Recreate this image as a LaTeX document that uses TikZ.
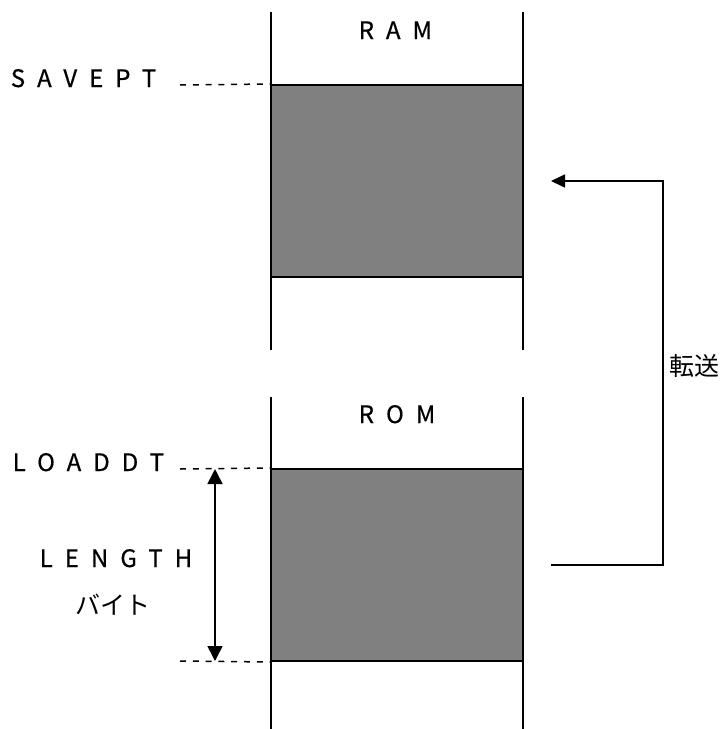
\documentclass[tikz,border=0pt]{standalone}
\usepackage{fontspec}
\setmainfont{Noto Sans CJK JP}
\newfontfamily\spaced[LetterSpace=50,FakeBold=0.6]{Noto Sans CJK JP}
\usetikzlibrary{arrows.meta}
\begin{document}
\begin{tikzpicture}[x=1pt,y=-1pt,
  line width=1.6pt,
  block/.style={draw=black, line width=2pt, fill=black!50, minimum width=252pt, minimum height=192pt, inner sep=0pt},
  lbl/.style={font=\spaced\fontsize{24}{24}\selectfont, inner sep=0pt},
  jlbl/.style={font=\fontsize{25}{25}\selectfont, inner sep=0pt},
  guide/.style={line width=1.5pt, dash pattern=on 6pt off 6.8pt},
  tip/.style={-{Triangle[length=14pt,width=13pt]}}
]
\useasboundingbox (0,0) rectangle (727,729);
% column lines
\coordinate (ramTL) at (271,12);
\coordinate (ramBL) at (271,350);
\coordinate (ramTR) at (523,12);
\coordinate (ramBR) at (523,350);
\coordinate (romTL) at (271,397);
\coordinate (romBL) at (271,729);
\coordinate (romTR) at (523,397);
\coordinate (romBR) at (523,729);
\draw (ramTL) -- (ramBL);
\draw (ramTR) -- (ramBR);
\draw (romTL) -- (romBL);
\draw (romTR) -- (romBR);
% blocks
\node[block] (ramblk) at (397,181) {};
\node[block] (romblk) at (397,565) {};
% labels
\node[lbl, anchor=base west] (ram) at (358,39) {RAM};
\node[lbl, anchor=base west] (rom) at (358,423) {ROM};
\node[lbl, anchor=base west] (savept) at (10,87) {SAVEPT};
\node[lbl, anchor=base west] (loaddt) at (12,471) {LOADDT};
\node[lbl, anchor=base west] (length) at (39,567) {LENGTH};
\node[jlbl] (byte) at (113,605) {バイト};
\node[jlbl] (tensou) at (694,366) {転送};
% dashed guides
\coordinate (sv) at (180,85);
\coordinate (ld) at (180,469);
\coordinate (le) at (180,661);
\draw[guide] (sv) -- (ramblk.north west);
\draw[guide] (ld) -- (romblk.north west);
\draw[guide] (le) -- (romblk.south west);
% length arrow
\coordinate (la) at (215,469);
\coordinate (lb) at (215,661);
\draw[{Triangle[length=15pt,width=15pt]}-{Triangle[length=15pt,width=15pt]}] (la) -- (lb);
% transfer arrow
\coordinate (tA) at (551,565);
\coordinate (tB) at (663,565);
\coordinate (tC) at (663,181);
\coordinate (tD) at (551,181);
\draw[tip] (tA) -- (tB) -- (tC) -- (tD);
\end{tikzpicture}
\end{document}
